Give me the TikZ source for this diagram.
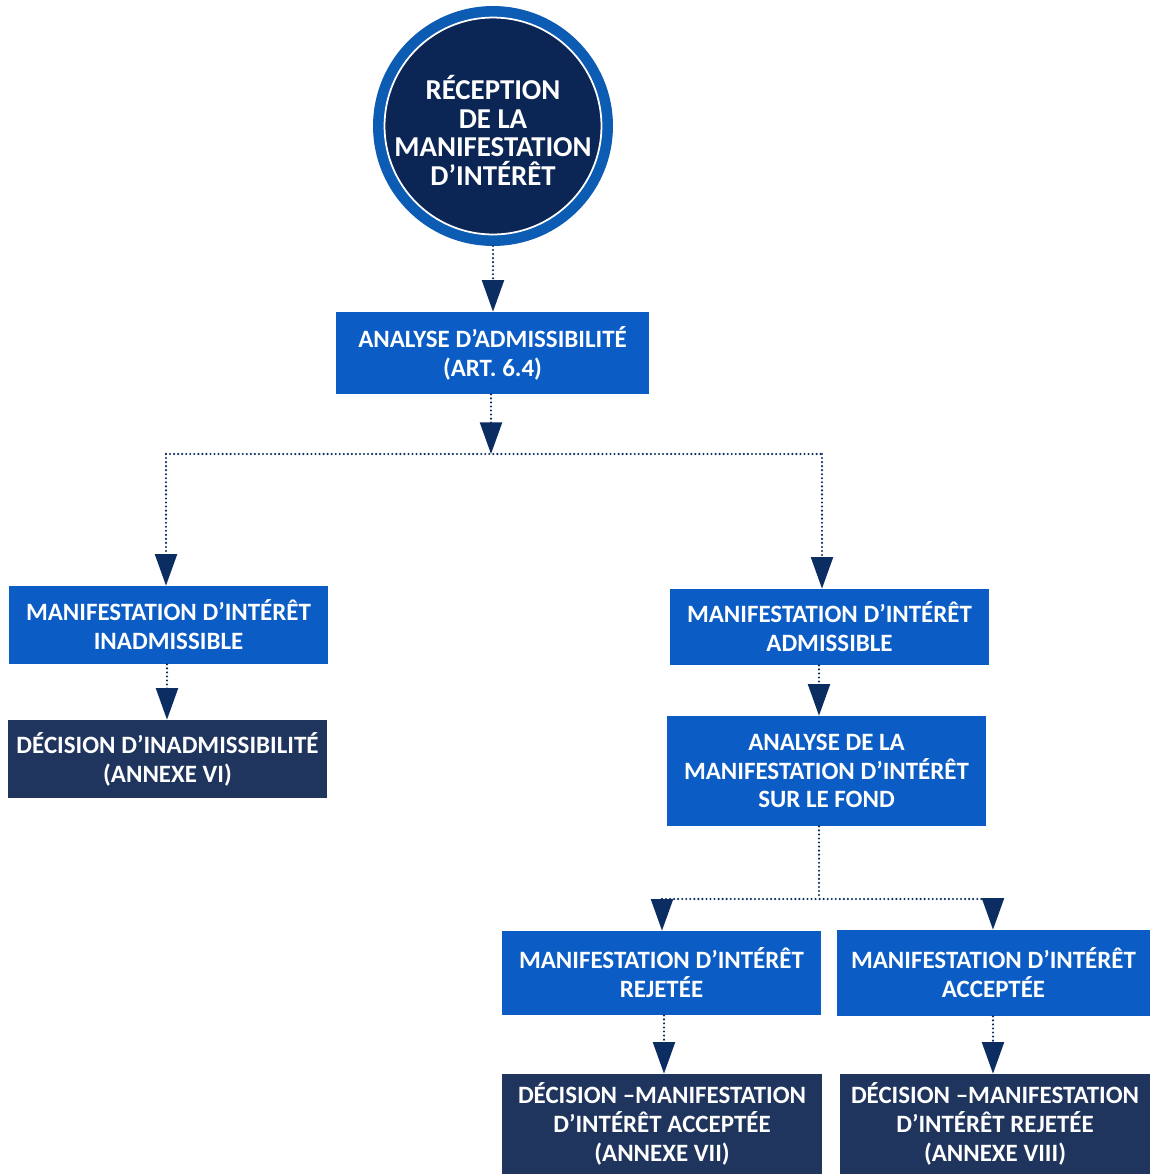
\documentclass[tikz,border=0pt]{standalone}
\usepackage{fontspec}
\setmainfont{Carlito}
\usetikzlibrary{arrows.meta}
\definecolor{bblue}{HTML}{0B5CC4}
\definecolor{dnavy}{HTML}{1F355E}
\definecolor{cnavy}{HTML}{0B2555}
\definecolor{ringblue}{HTML}{0D5CB4}
\definecolor{arrnavy}{HTML}{0B2D62}
\tikzset{
  box/.style={rectangle, fill=bblue, text=white, align=center, inner sep=0pt,
    font=\fontsize{14.2}{16.4}\selectfont\bfseries},
  dbox/.style={box, fill=dnavy},
  dotline/.style={draw=arrnavy, line width=1.35pt, line cap=round, dash pattern=on 0pt off 2.3pt},
  arr/.style={dotline, -{Triangle[width=12.5pt,length=18pt]}, arrnavy},
}
\begin{document}
\begin{tikzpicture}[x=0.02cm,y=-0.02cm]
\useasboundingbox[fill=white] (0,0) rectangle (1150,1174);
% circle
\node[circle, fill=cnavy, draw=ringblue, line width=0.22cm, minimum size=4.58cm,
      inner sep=0pt] (c) at (493,126) {};
\draw[white, line width=1pt] (c.center) circle[radius=2.17cm];
\node[text=white, align=center, inner sep=0pt,
      font=\fontsize{16.4}{16.2}\selectfont\bfseries] (ct) at (493,130.5)
  {RÉCEPTION\\DE LA\\MANIFESTATION\\D’INTÉRÊT};
% boxes
\node[box, minimum width=6.26cm, minimum height=1.64cm] (a1) at (492.5,353)
  {ANALYSE D’ADMISSIBILITÉ\\(ART. 6.4)};
\node[box, minimum width=6.38cm, minimum height=1.56cm] (inad) at (168.5,625)
  {MANIFESTATION D’INTÉRÊT\\INADMISSIBLE};
\node[dbox, minimum width=6.38cm, minimum height=1.56cm] (dinad) at (167.5,759)
  {DÉCISION D’INADMISSIBILITÉ\\(ANNEXE VI)};
\node[box, minimum width=6.38cm, minimum height=1.52cm] (adm) at (829.5,627)
  {MANIFESTATION D’INTÉRÊT\\ADMISSIBLE};
\node[box, minimum width=6.38cm, minimum height=2.2cm] (fond) at (826.5,771)
  {ANALYSE DE LA\\MANIFESTATION D’INTÉRÊT\\SUR LE FOND};
\node[box, minimum width=6.38cm, minimum height=1.68cm] (rej) at (661.5,973)
  {MANIFESTATION D’INTÉRÊT\\REJETÉE};
\node[box, minimum width=6.26cm, minimum height=1.72cm] (acc) at (993.5,973)
  {MANIFESTATION D’INTÉRÊT\\ACCEPTÉE};
\node[dbox, minimum width=6.4cm, minimum height=2.0cm] (dacc) at (662,1124)
  {DÉCISION –MANIFESTATION\\D’INTÉRÊT ACCEPTÉE\\(ANNEXE VII)};
\node[dbox, minimum width=6.2cm, minimum height=2.0cm] (drej) at (995,1124)
  {DÉCISION –MANIFESTATION\\D’INTÉRÊT REJETÉE\\(ANNEXE VIII)};
% junction coordinates
\coordinate (j1) at (491,454);
\coordinate (j1l) at (166,454);
\coordinate (j1r) at (822,454);
\coordinate (x819) at (819,0);
\coordinate (j2) at (819,899);
\coordinate (j2l) at (662,899);
\coordinate (j2r) at (993,899);
\coordinate (x664) at (664,0);
\coordinate (x167) at (167,0);
% connectors
\draw[arr] (c.south) -- (c.south |- a1.north);
\draw[arr] (a1.south -| j1) -- (j1);
\draw[dotline] (j1l) -- (j1r);
\draw[arr] (j1l) -- (j1l |- inad.north);
\draw[arr] (j1r) -- (j1r |- adm.north);
\draw[arr] (inad.south -| x167) -- (dinad.north -| x167);
\draw[arr] (adm.south -| x819) -- (fond.north -| x819);
\draw[dotline] (fond.south -| j2) -- (j2);
\draw[dotline] (j2l) -- (j2r);
\draw[arr] (j2l) -- (j2l |- rej.north);
\draw[arr] (j2r) -- (j2r |- acc.north);
\draw[arr] (rej.south -| x664) -- (dacc.north -| x664);
\draw[arr] (acc.south -| j2r) -- (drej.north -| j2r);
\end{tikzpicture}
\end{document}
